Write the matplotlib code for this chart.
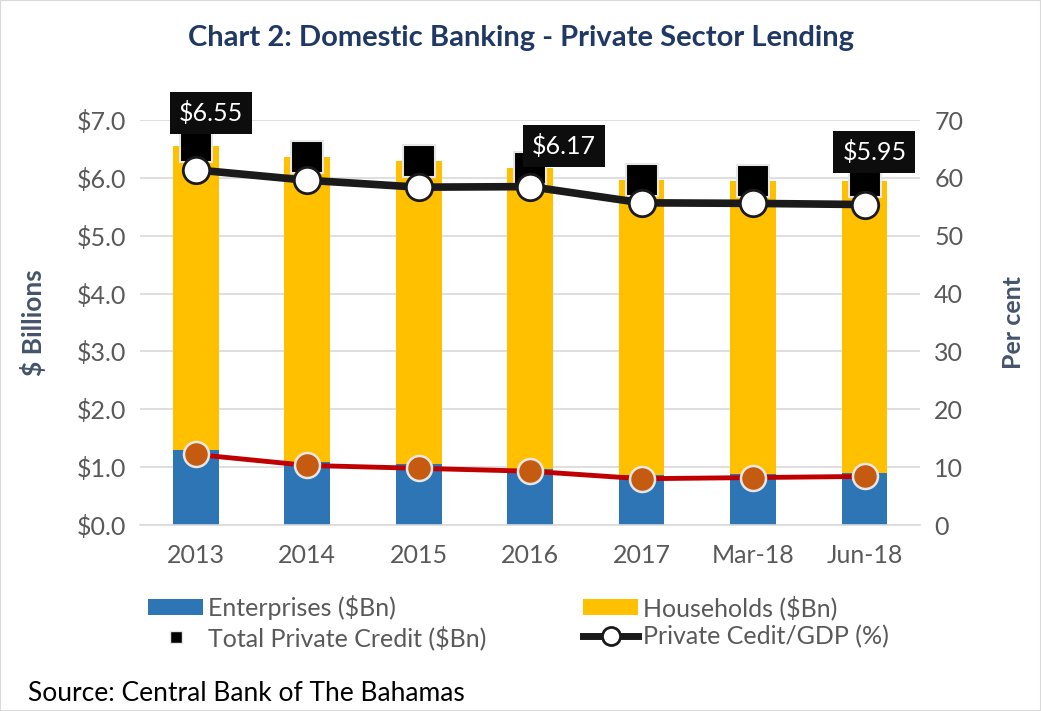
import matplotlib
matplotlib.use("Agg")
import matplotlib.pyplot as plt
from matplotlib.patches import Patch, Rectangle
from matplotlib.lines import Line2D
import numpy as np

plt.rcParams['font.family'] = ['Lato', 'DejaVu Sans']

# data
categories = ["2013", "2014", "2015", "2016", "2017", "Mar-18", "Jun-18"]
total_credit = [6.55, 6.37, 6.29, 6.17, 5.97, 5.95, 5.95]
enterprises = [1.30, 1.09, 1.05, 0.97, 0.86, 0.88, 0.90]
households = [t - e for t, e in zip(total_credit, enterprises)]
credit_gdp = [61.4, 59.6, 58.4, 58.5, 55.7, 55.6, 55.4]
enterprise_gdp = [12.2, 10.3, 9.8, 9.3, 8.0, 8.2, 8.4]
labelled = {0: "$6.55", 3: "$6.17", 6: "$5.95"}

yticks_left = [0, 1, 2, 3, 4, 5, 6, 7]
yticks_right = [0, 10, 20, 30, 40, 50, 60, 70]

tick_col = "#595959"
navy = "#1F3864"
axlab_col = "#44546A"

fig = plt.figure(figsize=(10.41, 7.11), dpi=100)
ax = fig.add_axes([0.1345, 0.2616, 0.7495, 0.5695])
ax2 = ax.twinx()

x = np.arange(len(categories))
w = 0.41
ax.bar(x, enterprises, w, color="#2E75B6", zorder=2)
ax.bar(x, households, w, bottom=enterprises, color="#FFC000", zorder=2)
ax.plot(x, total_credit, linestyle="none", marker="s", markersize=23,
        markerfacecolor="black", markeredgecolor="#E7E6E6", markeredgewidth=1.5, zorder=3)

# label offsets in points (hand placed like the original)
label_offsets = {0: (-12, 24), 3: (1, 16), 6: (-16, 21)}
for i, txt in labelled.items():
    ax.annotate(txt, (x[i], total_credit[i]), xytext=label_offsets[i], textcoords="offset points",
                color="white", fontsize=18, ha="left", va="center", zorder=6,
                bbox=dict(boxstyle="square,pad=0.36", facecolor="#0D0D0D", edgecolor="none"))

ax2.plot(x, credit_gdp, color="#1A1A1A", linewidth=5.5, marker="o", markersize=19,
         markerfacecolor="white", markeredgecolor="#1A1A1A", markeredgewidth=2, zorder=4)
ax2.plot(x, enterprise_gdp, color="#C00000", linewidth=3.5, marker="o", markersize=18,
         markerfacecolor="#C55A11", markeredgecolor="#E7E6E6", markeredgewidth=1.8, zorder=4)

ax.set_xlim(-0.5, len(categories) - 0.5)
ax.set_ylim(0, 7)
ax2.set_ylim(0, 70)
ax.set_yticks(yticks_left)
ax.set_yticklabels([f"${v:.1f}" for v in yticks_left])
ax2.set_yticks(yticks_right)
ax.set_xticks(x)
ax.set_xticklabels(categories)
ax.grid(axis="y", color="#D9D9D9", linewidth=1.2, zorder=0)
ax.set_axisbelow(True)

for a in (ax, ax2):
    for s in a.spines.values():
        s.set_visible(False)
    a.tick_params(length=0, labelsize=18, labelcolor=tick_col, pad=10)
ax.spines["bottom"].set_visible(True)
ax.spines["bottom"].set_color("#D9D9D9")
ax.spines["bottom"].set_linewidth(1.2)
ax.tick_params(axis="x", pad=14)

ax.set_ylabel("$ Billions", fontsize=19, fontweight="bold", color=axlab_col, labelpad=22)
ax2.set_ylabel("Per cent", fontsize=18, fontweight="bold", color=axlab_col, labelpad=28)

fig.text(0.5, 0.946, "Chart 2: Domestic Banking - Private Sector Lending", ha="center", va="center",
         fontsize=21, fontweight="bold", color=navy)

handles = [
    Patch(facecolor="#2E75B6"),
    Line2D([], [], linestyle="none", marker="s", markersize=8, markerfacecolor="black",
           markeredgecolor="#E7E6E6"),
    Patch(facecolor="#FFC000"),
    Line2D([], [], color="#1A1A1A", linewidth=5, marker="o", markersize=13,
           markerfacecolor="white", markeredgecolor="#1A1A1A", markeredgewidth=2),
]
labels = ["Enterprises ($Bn)", "Total Private Credit ($Bn)", "Households ($Bn)", "Private Cedit/GDP (%)"]
leg = fig.legend(handles, labels, ncol=2, loc="upper left", bbox_to_anchor=(0.133, 0.177),
                 frameon=False, fontsize=18, handlelength=2.2, handleheight=0.6, handletextpad=0.2,
                 columnspacing=3.85, labelspacing=0.2, labelcolor=tick_col, borderaxespad=0)

fig.text(0.027, 0.025, "Source: Central Bank of The Bahamas", fontsize=19, color="black",
         ha="left", va="center")

fig.patches.append(Rectangle((0, 0), 1, 1, transform=fig.transFigure, fill=False,
                             edgecolor="#D9D9D9", linewidth=1.5))

fig.savefig("out.png", dpi=100)
